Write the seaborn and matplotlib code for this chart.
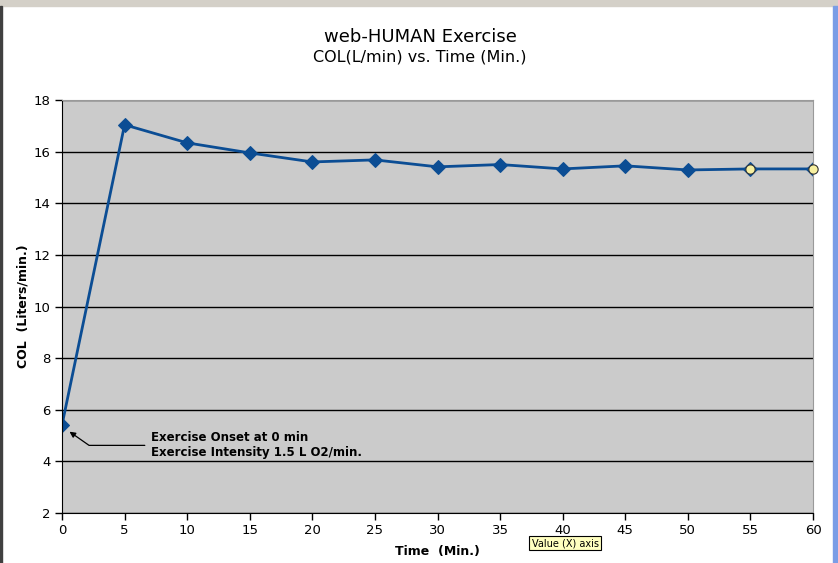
import matplotlib
matplotlib.use('Agg')
import matplotlib.pyplot as plt
import matplotlib.patches as mpatches
import seaborn as sns
import pandas as pd

# data
time_min = [0, 5, 10, 15, 20, 25, 30, 35, 40, 45, 50, 55, 60]
col_lpm = [5.41, 17.04, 16.34, 15.95, 15.6, 15.68, 15.41, 15.5, 15.33, 15.45, 15.29, 15.33, 15.33]
selected_idx = [11, 12]

df = pd.DataFrame({'Time': time_min, 'COL': col_lpm})
sel = df.iloc[selected_idx]

sns.set_style('white')
plt.rcParams['font.family'] = ['DejaVu Sans']
plt.rcParams['text.color'] = 'black'
plt.rcParams['axes.labelcolor'] = 'black'

fig = plt.figure(figsize=(8.38, 5.63), dpi=100)
W, H = 838, 563
ax = fig.add_axes([62 / W, 1 - 513 / H, (813 - 62) / W, (513 - 100) / H])
ax.set_facecolor('#cbcbcb')

# window chrome
fig.patches.append(mpatches.Rectangle((0, 1 - 6 / H), 1, 6 / H, transform=fig.transFigure,
                                      color='#d4d0c8', zorder=0))
fig.patches.append(mpatches.Rectangle((0, 0), 2 / W, 1 - 6 / H, transform=fig.transFigure,
                                      color='#404040', zorder=0))
fig.patches.append(mpatches.Rectangle((833 / W, 0), 5 / W, 1 - 6 / H, transform=fig.transFigure,
                                      color='#7b9de6', zorder=0))

sns.lineplot(data=df, x='Time', y='COL', ax=ax, color='#0b4d94', lw=2,
             marker='D', markersize=7, markeredgecolor='#0b4d94')
sns.scatterplot(data=sel, x='Time', y='COL', ax=ax, color='#f7f0a0', s=45,
                edgecolor='#333333', linewidth=0.8, zorder=5, clip_on=False)

ax.set_xlim(0, 60)
ax.set_ylim(2, 18)
ax.set_xticks(range(0, 61, 5))
ax.set_yticks(range(2, 19, 2))
ax.yaxis.grid(True, color='black', lw=1)
ax.set_axisbelow(True)
for s in ['top', 'right']:
    ax.spines[s].set_color('#9a9a9a')
for s in ['left', 'bottom']:
    ax.spines[s].set_color('black')
ax.tick_params(axis='both', direction='out', length=5, width=1, colors='black',
               labelsize=9.5, bottom=True, left=True, pad=3)
ax.set_xlabel('Time  (Min.)', fontsize=9, fontweight='bold')
ax.set_ylabel('COL  (Liters/min.)', fontsize=9, fontweight='bold')
ax.xaxis.set_label_coords(0.5, -0.077)
ax.yaxis.set_label_coords(-0.043, 0.5)

fig.text(420 / W, 1 - 37 / H, 'web-HUMAN Exercise', ha='center', va='center', fontsize=13)
fig.text(420 / W, 1 - 57 / H, 'COL(L/min) vs. Time (Min.)', ha='center', va='center', fontsize=11.5)

ax.annotate('Exercise Onset at 0 min\nExercise Intensity 1.5 L O2/min.',
            xy=(0.6, 5.15), xytext=(7.1, 4.62), fontsize=8.5, fontweight='bold',
            va='center', ha='left', linespacing=1.2,
            arrowprops=dict(arrowstyle='-|>', color='black', lw=0.9, shrinkA=2, shrinkB=0,
                            connectionstyle='angle,angleA=0,angleB=-35,rad=0'))

# tooltip box
fig.text(565 / W, 1 - 543 / H, 'Value (X) axis', ha='center', va='center', fontsize=7,
         bbox=dict(boxstyle='square,pad=0.25', fc='#ffffc0', ec='black', lw=0.8))

fig.savefig('out.png', dpi=100)
